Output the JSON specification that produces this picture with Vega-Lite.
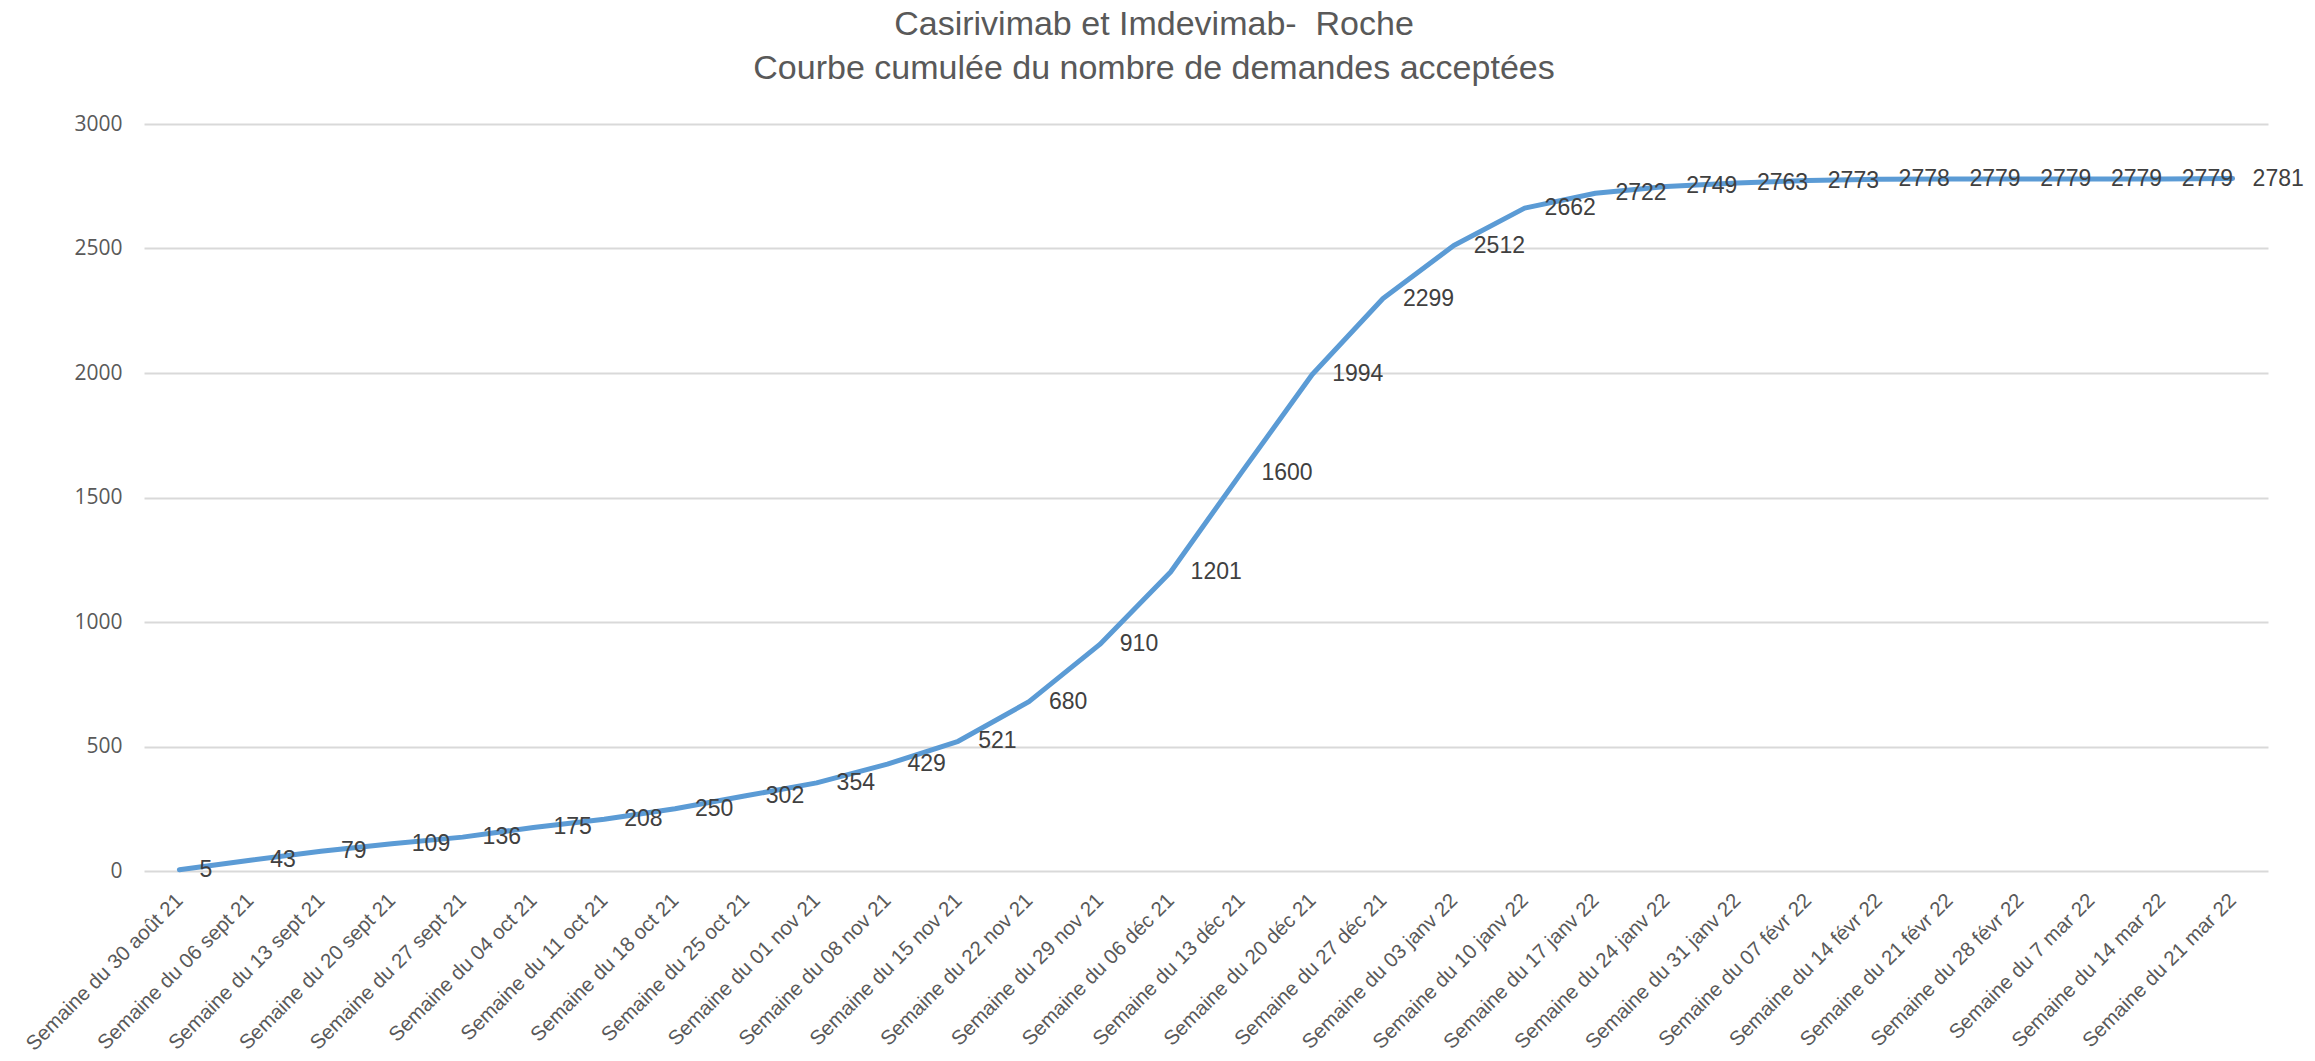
{
  "$schema": "https://vega.github.io/schema/vega-lite/v6.json",
  "autosize": {"type": "none"},
  "width": 2124,
  "height": 747,
  "padding": {"left": 144, "top": 124, "right": 47, "bottom": 190},
  "background": "white",
  "title": {
    "text": ["Casirivimab et Imdevimab-\u00a0 Roche", "Courbe cumulée du nombre de demandes acceptées"],
    "font": "Liberation Sans",
    "fontSize": 34,
    "fontWeight": "normal",
    "color": "#595959",
    "lineHeight": 44,
    "anchor": "middle",
    "dx": -52,
    "offset": 27
  },
  "config": {
    "view": {"stroke": null},
    "axis": {"labelColor": "#595959", "domain": false, "ticks": false}
  },
  "data": {
    "values": [
      {"semaine": "Semaine du 30 août 21", "cumul": 5},
      {"semaine": "Semaine du 06 sept 21", "cumul": 43},
      {"semaine": "Semaine du 13 sept 21", "cumul": 79},
      {"semaine": "Semaine du 20 sept 21", "cumul": 109},
      {"semaine": "Semaine du 27 sept 21", "cumul": 136},
      {"semaine": "Semaine du 04 oct 21", "cumul": 175},
      {"semaine": "Semaine du 11 oct 21", "cumul": 208},
      {"semaine": "Semaine du 18 oct 21", "cumul": 250},
      {"semaine": "Semaine du 25 oct 21", "cumul": 302},
      {"semaine": "Semaine du 01 nov 21", "cumul": 354},
      {"semaine": "Semaine du 08 nov 21", "cumul": 429},
      {"semaine": "Semaine du 15 nov 21", "cumul": 521},
      {"semaine": "Semaine du 22 nov 21", "cumul": 680},
      {"semaine": "Semaine du 29 nov 21", "cumul": 910},
      {"semaine": "Semaine du 06 déc 21", "cumul": 1201},
      {"semaine": "Semaine du 13 déc 21", "cumul": 1600},
      {"semaine": "Semaine du 20 déc 21", "cumul": 1994},
      {"semaine": "Semaine du 27 déc 21", "cumul": 2299},
      {"semaine": "Semaine du 03 janv 22", "cumul": 2512},
      {"semaine": "Semaine du 10 janv 22", "cumul": 2662},
      {"semaine": "Semaine du 17 janv 22", "cumul": 2722},
      {"semaine": "Semaine du 24 janv 22", "cumul": 2749},
      {"semaine": "Semaine du 31 janv 22", "cumul": 2763},
      {"semaine": "Semaine du 07 févr 22", "cumul": 2773},
      {"semaine": "Semaine du 14 févr 22", "cumul": 2778},
      {"semaine": "Semaine du 21 févr 22", "cumul": 2779},
      {"semaine": "Semaine du 28 févr 22", "cumul": 2779},
      {"semaine": "Semaine du 7 mar 22", "cumul": 2779},
      {"semaine": "Semaine du 14 mar 22", "cumul": 2779},
      {"semaine": "Semaine du 21 mar 22", "cumul": 2781}
    ]
  },
  "encoding": {
    "x": {
      "field": "semaine",
      "type": "nominal",
      "sort": null,
      "scale": {"type": "point", "padding": 0.5},
      "axis": {
        "title": null,
        "labelAngle": -45,
        "labelAlign": "right",
        "labelBaseline": "middle",
        "labelFont": "Liberation Sans",
        "labelFontSize": 20.5,
        "labelPadding": 26,
        "labelLimit": 400,
        "grid": false
      }
    },
    "y": {
      "field": "cumul",
      "type": "quantitative",
      "scale": {"domain": [0, 3000], "nice": false},
      "axis": {
        "title": null,
        "values": [0, 500, 1000, 1500, 2000, 2500, 3000],
        "format": "d",
        "labelFont": "Open Sans",
        "labelFontSize": 21,
        "labelPadding": 22,
        "grid": true,
        "gridColor": "#D9D9D9",
        "gridWidth": 2
      }
    }
  },
  "layer": [
    {
      "mark": {"type": "line", "color": "#5B9BD5", "strokeWidth": 5, "strokeCap": "round", "strokeJoin": "round", "interpolate": "linear"}
    },
    {
      "mark": {"type": "text", "align": "left", "baseline": "middle", "dx": 20, "font": "Liberation Sans", "fontSize": 23, "color": "#404040"},
      "encoding": {"text": {"field": "cumul", "type": "quantitative", "format": "d"}}
    }
  ]
}
